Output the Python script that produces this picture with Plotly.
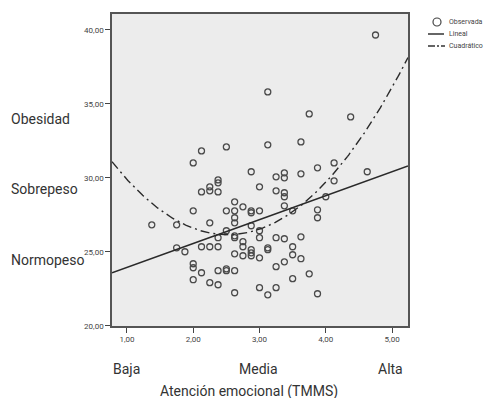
import plotly.graph_objects as go
import numpy as np

# Observed points: Atención emocional (TMMS) vs IMC
obs_x = [4.75, 3.125, 3.75, 4.375, 3.625, 3.125, 2.5, 2.125, 2.0, 4.125,
         3.875, 2.875, 3.625, 4.625, 3.375, 3.375, 3.25, 2.375, 2.375, 4.125,
         2.25, 2.25, 3.0, 2.125, 2.375, 3.25, 3.375, 3.375, 4.0, 2.625,
         2.75, 3.375, 3.875, 3.875, 3.5, 2.0, 2.5, 2.625, 2.875, 2.875,
         3.0, 2.625, 1.375, 1.75, 2.25, 2.625, 2.875, 2.5, 3.0, 2.625,
         2.625, 2.375, 3.0, 3.25, 3.375, 3.625, 2.75, 2.75, 1.75, 1.875,
         2.125, 2.25, 2.375, 3.5, 2.875, 2.875, 2.875, 3.125, 3.125, 2.625,
         2.75, 3.0, 3.5, 3.375, 3.625, 2.0, 2.0, 3.25, 2.125, 2.375,
         2.5, 2.5, 2.625, 3.75, 2.0, 3.5, 2.25, 2.375, 3.0, 3.25,
         2.625, 3.125, 3.875]
obs_y = [39.66, 35.81, 34.32, 34.12, 32.43, 32.23, 32.09, 31.82, 31.01, 31.01,
         30.68, 30.41, 30.27, 30.41, 30.34, 30.00, 30.07, 29.86, 29.66, 29.80,
         29.39, 29.12, 29.39, 29.05, 29.05, 29.12, 28.99, 28.72, 28.72, 28.38,
         28.04, 28.11, 27.84, 27.30, 27.77, 27.77, 27.77, 27.77, 27.77, 27.64,
         27.77, 27.30, 26.82, 26.82, 26.96, 26.96, 26.76, 26.42, 26.42, 26.08,
         25.95, 25.95, 25.95, 25.95, 25.88, 26.01, 25.68, 25.34, 25.27, 25.00,
         25.34, 25.34, 25.34, 25.34, 25.14, 24.93, 24.73, 25.27, 25.14, 24.86,
         24.73, 24.59, 24.80, 24.32, 24.53, 24.19, 23.92, 23.99, 23.58, 23.72,
         23.85, 23.72, 23.72, 23.51, 23.11, 23.18, 22.91, 22.77, 22.57, 22.57,
         22.23, 22.09, 22.16]

# Fitted models (coefficients)
lin_coef = [22.32, 1.62]               # y = b0 + b1 x
quad_coef = [36.44, -8.165, 1.62]      # y = c0 + c1 x + c2 x^2

x_range = [0.775, 5.24]
y_range = [19.98, 41.08]

x_ticks = [1, 2, 3, 4, 5]
x_ticktext = ["1,00", "2,00", "3,00", "4,00", "5,00"]
y_ticks = [20, 25, 30, 35, 40]
y_ticktext = ["20,00", "25,00", "30,00", "35,00", "40,00"]

bmi_labels = ["Obesidad", "Sobrepeso", "Normopeso"]
level_labels = ["Baja", "Media", "Alta"]
legend_labels = ["Observada", "Lineal", "Cuadrático"]
x_title = "Atención emocional (TMMS)"

FONT = "Roboto, Liberation Sans, sans-serif"

xs = np.linspace(x_range[0], x_range[1], 300)
lin_y = lin_coef[0] + lin_coef[1] * xs
quad_y = quad_coef[0] + quad_coef[1] * xs + quad_coef[2] * xs ** 2

fig = go.Figure()
fig.add_trace(go.Scatter(x=obs_x, y=obs_y, mode="markers",
                         marker=dict(symbol="circle-open", size=6, color="#4a4a4a",
                                     line=dict(width=1.3, color="#4a4a4a")),
                         showlegend=False, cliponaxis=False))
fig.add_trace(go.Scatter(x=xs, y=lin_y, mode="lines",
                         line=dict(color="#2a2a2a", width=1.6), showlegend=False))
fig.add_trace(go.Scatter(x=xs, y=quad_y, mode="lines",
                         line=dict(color="#2a2a2a", width=1.4, dash="9px,4px,2px,4px"),
                         showlegend=False))

fig.update_xaxes(range=x_range, tickvals=x_ticks, ticktext=x_ticktext,
                 showgrid=False, zeroline=False, showline=True, linecolor="#555555",
                 linewidth=1.5, mirror=True, ticks="outside", ticklen=5, tickwidth=1,
                 tickcolor="#444444", tickfont=dict(family=FONT, size=8, color="#444444"))
fig.update_yaxes(range=y_range, tickvals=y_ticks, ticktext=y_ticktext,
                 showgrid=False, zeroline=False, showline=True, linecolor="#555555",
                 linewidth=1.5, mirror=True, ticks="outside", ticklen=5, tickwidth=1,
                 tickcolor="#444444", tickfont=dict(family=FONT, size=8, color="#444444"))

W, H = 487, 398
L, R, T, B = 112, 79, 14, 72

def px(xp):
    return (xp - L) / (W - L - R)

def py(yp):
    return 1 - (yp - T) / (H - T - B)

annotations = []
for lab, ypix in zip(bmi_labels, [119, 189, 260]):
    annotations.append(dict(x=px(9), xref="paper", y=py(ypix), yref="paper",
                            text=lab, showarrow=False, xanchor="left", yanchor="middle",
                            font=dict(family=FONT, size=14, color="#333333")))
for lab, xpix in zip(level_labels, [126, 258, 390]):
    annotations.append(dict(x=px(xpix), xref="paper", y=py(369), yref="paper",
                            text=lab, showarrow=False, xanchor="center", yanchor="middle",
                            font=dict(family=FONT, size=14, color="#333333")))
annotations.append(dict(x=px(249), xref="paper", y=py(391), yref="paper",
                        text=x_title, showarrow=False, xanchor="center", yanchor="middle",
                        font=dict(family=FONT, size=14, color="#333333")))

# Legend (drawn manually)
leg_y = [22, 34, 46]
for lab, ypix in zip(legend_labels, leg_y):
    annotations.append(dict(x=px(447), xref="paper", y=py(ypix), yref="paper",
                            text=lab, showarrow=False, xanchor="left", yanchor="middle",
                            font=dict(family=FONT, size=7, color="#444444")))
shapes = [
    dict(type="circle", xref="paper", yref="paper",
         x0=px(433), x1=px(441), y0=py(leg_y[0] + 4), y1=py(leg_y[0] - 4),
         line=dict(color="#444444", width=1.2)),
    dict(type="line", xref="paper", yref="paper",
         x0=px(428), x1=px(444), y0=py(leg_y[1]), y1=py(leg_y[1]),
         line=dict(color="#333333", width=1.5)),
    dict(type="line", xref="paper", yref="paper",
         x0=px(428), x1=px(445), y0=py(leg_y[2]), y1=py(leg_y[2]),
         line=dict(color="#333333", width=1.4, dash="7px,2px,2px,2px")),
]

fig.update_layout(width=W, height=H, margin=dict(l=L, r=R, t=T, b=B),
                  paper_bgcolor="white", plot_bgcolor="#ececec",
                  annotations=annotations, shapes=shapes,
                  font=dict(family=FONT))

fig.write_html("out.html", config={"displayModeBar": False},
               post_script="document.body.style.margin='0';document.body.style.overflow='hidden';")
